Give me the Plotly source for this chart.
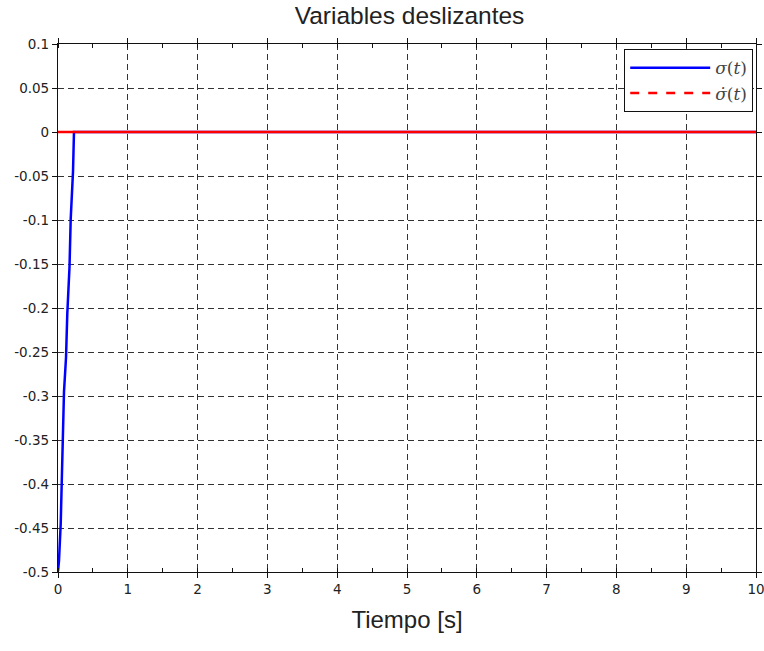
import plotly.graph_objects as go

# Data
t_sigma = [0.0, 0.014, 0.039, 0.053, 0.076, 0.086, 0.115, 0.133, 0.165, 0.182, 0.215, 0.229, 10.0]
sigma = [-0.499, -0.4875, -0.445, -0.40, -0.352, -0.295, -0.256, -0.207, -0.153, -0.099, -0.045, 0.0, 0.0]
t_dsigma = [0.0, 10.0]
dsigma = [0.0, 0.0]

x_ticks = [0, 1, 2, 3, 4, 5, 6, 7, 8, 9, 10]
x_ticklabels = ["0", "1", "2", "3", "4", "5", "6", "7", "8", "9", "10"]
y_ticks = [0.1, 0.05, 0, -0.05, -0.1, -0.15, -0.2, -0.25, -0.3, -0.35, -0.4, -0.45, -0.5]
y_ticklabels = ["0.1", "0.05", "0", "-0.05", "-0.1", "-0.15", "-0.2", "-0.25", "-0.3",
                "-0.35", "-0.4", "-0.45", "-0.5"]

fig = go.Figure()
fig.add_trace(go.Scatter(x=t_sigma, y=sigma, mode="lines",
                         line=dict(color="#0000ff", width=2.5),
                         name="<i>σ</i>(<i>t</i>)"))
fig.add_trace(go.Scatter(x=t_dsigma, y=dsigma, mode="lines",
                         line=dict(color="#ff0000", width=2.5),
                         showlegend=False))
fig.add_trace(go.Scatter(x=[None], y=[None], mode="lines",
                         line=dict(color="#ff0000", width=2.5, dash="dash"),
                         name="<i>σ̇</i>(<i>t</i>)"))

tickfont = dict(family="DejaVu Sans", size=13.5, color="#222")
axis_common = dict(showline=True, linecolor="#111", linewidth=1.2, mirror="ticks",
                   ticks="outside", ticklen=5, tickcolor="#111", zeroline=False,
                   tickfont=tickfont, automargin=False, ticklabeloverflow="allow",
                   showgrid=True, gridcolor="#333", gridwidth=1, griddash="6px,4px")

fig.update_xaxes(range=[0, 10], tickvals=x_ticks, ticktext=x_ticklabels,
                 title=dict(text="Tiempo [s]", font=dict(family="Liberation Sans, Arial",
                                                         size=24, color="#222"), standoff=14),
                 minor=dict(ticks="inside", ticklen=4, tickcolor="#111", dtick=0.5,
                            showgrid=False),
                 **axis_common)
fig.update_yaxes(range=[-0.5, 0.1], tickvals=y_ticks, ticktext=y_ticklabels,
                 **axis_common)

fig.update_layout(
    width=764, height=651,
    margin=dict(l=58, r=8, t=44, b=79, autoexpand=False),
    paper_bgcolor="white", plot_bgcolor="white",
    title=dict(text="Variables deslizantes", x=0.536, xanchor="center", y=0.977,
               yanchor="middle",
               font=dict(family="Liberation Sans, Arial", size=24.5, color="#222")),
    legend=dict(x=0.996, y=0.99, xanchor="right", yanchor="top",
                bgcolor="white", bordercolor="#111", borderwidth=1,
                font=dict(family="DejaVu Serif, Liberation Serif", size=17, color="#444"),
                itemwidth=80, tracegroupgap=0),
    showlegend=True,
)

fig.write_html("out.html")
